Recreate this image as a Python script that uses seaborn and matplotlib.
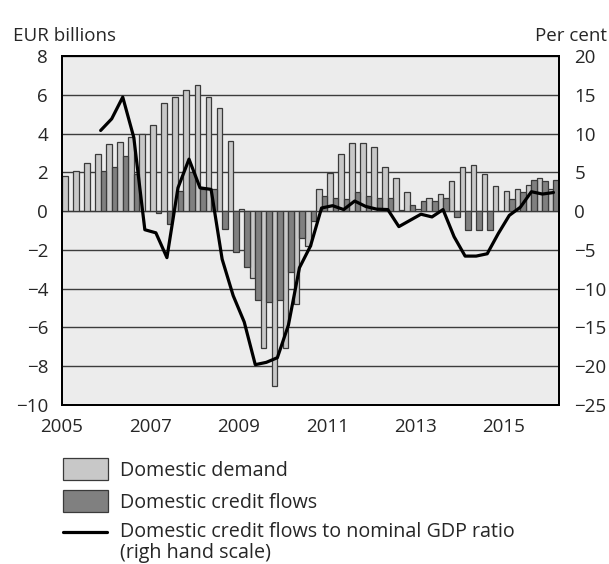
import numpy as np
import pandas as pd
import matplotlib.pyplot as plt
from matplotlib.patches import Rectangle
from matplotlib.lines import Line2D
import seaborn as sns

# quarterly data, 2005Q1 - 2016Q1
quarters = [f'{y}Q{q}' for y in range(2005, 2017) for q in range(1, 5)][:45]

demand = [1.8, 2.05, 2.5, 2.95, 3.45, 3.55, 3.8, 4.0, 4.45, 5.6,
          5.9, 6.25, 6.5, 5.9, 5.3, 3.6, 0.1, -3.45, -7.05, -9.0,
          -7.05, -4.8, -1.8, 1.15, 1.95, 2.95, 3.5, 3.5, 3.3, 2.3,
          1.7, 1.0, 0.1, 0.7, 0.9, 1.55, 2.3, 2.4, 1.9, 1.3,
          1.05, 1.15, 1.35, 1.7, 1.15]

credit = [0.0, 0.0, 0.0, 2.05, 2.3, 2.85, 1.9, 0.0, -0.1, -0.65,
          1.05, 2.0, 1.15, 1.15, -0.9, -2.1, -2.9, -4.6, -4.7, -4.6,
          -3.15, -1.4, -0.5, 0.8, 0.7, 0.65, 1.0, 0.8, 0.7, 0.7,
          0.05, 0.3, 0.5, 0.5, 0.7, -0.3, -1.0, -1.0, -1.0, 0.0,
          0.6, 1.0, 1.6, 1.55, 1.6]

ratio = [np.nan, np.nan, np.nan, 10.4, 11.9, 14.7, 9.5, -2.4, -2.8, -6.0,
         3.0, 6.7, 3.0, 2.8, -6.2, -10.9, -14.3, -19.8, -19.5, -18.9,
         -14.7, -7.3, -4.5, 0.4, 0.7, 0.2, 1.3, 0.6, 0.25, 0.2,
         -2.0, -1.2, -0.4, -0.75, 0.2, -3.3, -5.8, -5.8, -5.5, -2.9,
         -0.55, 0.5, 2.5, 2.2, 2.4]

years = list(range(2005, 2017))
year_labels = [str(y) if y % 2 == 1 else '' for y in years]

light, dark, edge = '#c8c8c8', '#808080', '#3a3a3a'

sns.set_theme(style='white')
plt.rcParams['font.family'] = ['Open Sans', 'DejaVu Sans']

df = pd.DataFrame({
    'quarter': quarters * 2,
    'series': ['Domestic demand'] * len(quarters) + ['Domestic credit flows'] * len(quarters),
    'value': demand + credit,
})

fig = plt.figure(figsize=(6.09, 5.64), dpi=100)
ax = fig.add_axes([62 / 609, 1 - 405 / 564, 497 / 609, 349 / 564])
ax.set_facecolor('#ececec')

sns.barplot(data=df, x='quarter', y='value', hue='series',
            hue_order=['Domestic demand', 'Domestic credit flows'],
            palette=[light, dark], width=1, gap=0, dodge=True,
            edgecolor=edge, linewidth=0.9, errorbar=None, legend=False,
            ax=ax, zorder=2)

ax.set_axisbelow(True)
ax.yaxis.grid(True, color='#3c3c3c', linewidth=1.0)
ax.set_ylim(-10, 8)
ax.set_yticks(range(-10, 9, 2))
ax.set_xlim(-0.5, len(quarters) - 0.5)
ax.set_xticks([4 * k - 0.5 for k in range(len(years))])
ax.set_xticklabels(year_labels)
ax.set_xlabel('')
ax.set_ylabel('')
ax.tick_params(axis='x', length=5, width=1, color='#555555', direction='out', pad=4, labelsize=13.5)
ax.tick_params(axis='y', length=0, pad=10, labelsize=13.5)

ax2 = ax.twinx()
sns.lineplot(x=np.arange(len(quarters)), y=ratio, ax=ax2, color='black', linewidth=2.3)
ax2.set_ylim(-25, 20)
ax2.set_yticks(range(-25, 21, 5))
ax2.set_xlim(-0.5, len(quarters) - 0.5)
ax2.set_ylabel('')
ax2.tick_params(axis='y', length=0, pad=11, labelsize=13.5)

for a in (ax, ax2):
    for s in a.spines.values():
        s.set_visible(True)
        s.set_color('black')
        s.set_linewidth(1.4)

fig.text(13 / 609, 1 - 41 / 564, 'EUR billions', fontsize=13.5, ha='left', va='baseline')
fig.text(607 / 609, 1 - 41 / 564, 'Per cent', fontsize=13.5, ha='right', va='baseline')

# legend below the chart
fig.add_artist(Rectangle((63 / 609, 1 - 480 / 564), 45 / 609, 22 / 564,
                         transform=fig.transFigure, facecolor=light, edgecolor=edge, linewidth=0.9))
fig.add_artist(Rectangle((63 / 609, 1 - 512 / 564), 45 / 609, 22 / 564,
                         transform=fig.transFigure, facecolor=dark, edgecolor=edge, linewidth=0.9))
fig.add_artist(Line2D([63 / 609, 107 / 609], [1 - 532 / 564] * 2,
                      transform=fig.transFigure, color='black', linewidth=2.3))

fig.text(120 / 609, 1 - 476 / 564, 'Domestic demand', fontsize=14.2, ha='left', va='baseline')
fig.text(120 / 609, 1 - 508 / 564, 'Domestic credit flows', fontsize=14.2, ha='left', va='baseline')
fig.text(120 / 609, 1 - 522 / 564,
         'Domestic credit flows to nominal GDP ratio\n(righ hand scale)',
         fontsize=14.2, ha='left', va='top', linespacing=1.05)

fig.savefig('out.png', dpi=100)
